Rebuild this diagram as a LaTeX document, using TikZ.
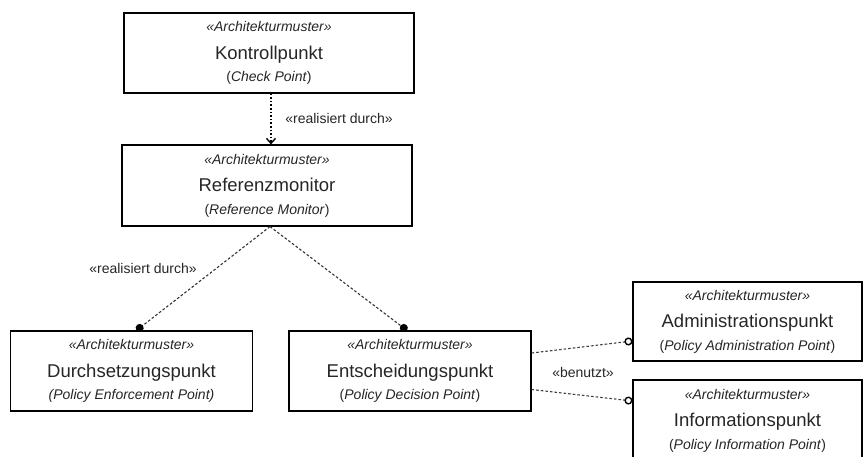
\documentclass[tikz,border=0pt]{standalone}
\usepackage{fontspec}
\setmainfont{Liberation Sans}
\usetikzlibrary{arrows.meta}

\begin{document}
\begin{tikzpicture}[x=1pt,y=-1pt,
        muster/.style={draw,line width=1.2pt,inner sep=0pt,minimum height=80pt,align=center,
            text=black!85,font=\fontsize{14}{22.4}\selectfont},
        realisiert/.style={line width=1.1pt,black!80,dash pattern=on 2.6pt off 2pt},
        benutzt/.style={line width=1.1pt,black!75,dash pattern=on 2.6pt off 2pt},
        stereo/.style={text=black!85,font=\fontsize{14}{16}\selectfont}]
    \useasboundingbox[fill=white] (0,0) rectangle (863,456);

    % Muster-Knoten
    \node[muster,minimum width=290pt] (kontroll) at (269,53)
        {\textit{«Architekturmuster»}\\[5.2pt]{\fontsize{18.5}{22}\selectfont Kontrollpunkt}\\(\textit{Check Point})};
    \node[muster,minimum width=290pt,minimum height=81pt] (referenz) at (267,185.5)
        {\textit{«Architekturmuster»}\\[5.2pt]{\fontsize{18.5}{22}\selectfont Referenzmonitor}\\(\textit{Reference Monitor})};
    \node[muster,minimum width=241.5pt] (durchsetzung) at (131.5,371)
        {\textit{«Architekturmuster»}\\[5.2pt]{\fontsize{18.5}{22}\selectfont Durchsetzungspunkt}\\\textit{(Policy Enforcement Point)}};
    \node[muster,minimum width=242pt] (entscheidung) at (410,371)
        {\textit{«Architekturmuster»}\\[5.2pt]{\fontsize{18.5}{22}\selectfont Entscheidungspunkt}\\(\textit{Policy Decision Point})};
    \node[muster,minimum width=229pt,minimum height=79pt] (administration) at (747.5,321.5)
        {\textit{«Architekturmuster»}\\[5.2pt]{\fontsize{18.5}{22}\selectfont Administrationspunkt}\\(\textit{Policy Administration Point})};
    \node[muster,minimum width=229pt,minimum height=81pt] (information) at (747.5,420.5)
        {\textit{«Architekturmuster»}\\[5.2pt]{\fontsize{18.5}{22}\selectfont Informationspunkt}\\(\textit{Policy Information Point})};

    % Beziehungen
    \draw[line width=1.4pt,dash pattern=on 1.6pt off 2pt,-{Straight Barb[length=5pt,width=9pt]}]
        ([xshift=2pt]kontroll.south) -- ([xshift=4pt]referenz.north);
    \node[stereo] (real1) at (339,118) {«realisiert durch»};

    \draw[realisiert,-{Circle[length=8pt,black]}] ([xshift=3pt]referenz.south) -- ([xshift=5pt]durchsetzung.north);
    \draw[realisiert,-{Circle[length=8pt,black]}] ([xshift=3pt]referenz.south) -- ([xshift=-3pt]entscheidung.north);
    \node[stereo] (real2) at (143,268) {«realisiert durch»};

    \draw[benutzt,-{Circle[open,length=8pt,line width=1.4pt,black]}] ([yshift=18pt]entscheidung.east) -- ([yshift=-19.5pt]administration.west);
    \draw[benutzt,-{Circle[open,length=8pt,line width=1.4pt,black]}] ([yshift=-18.5pt]entscheidung.east) -- ([yshift=19.5pt]information.west);
    \node[stereo] (benutzt) at (583,372) {«benutzt»};
\end{tikzpicture}
\end{document}
